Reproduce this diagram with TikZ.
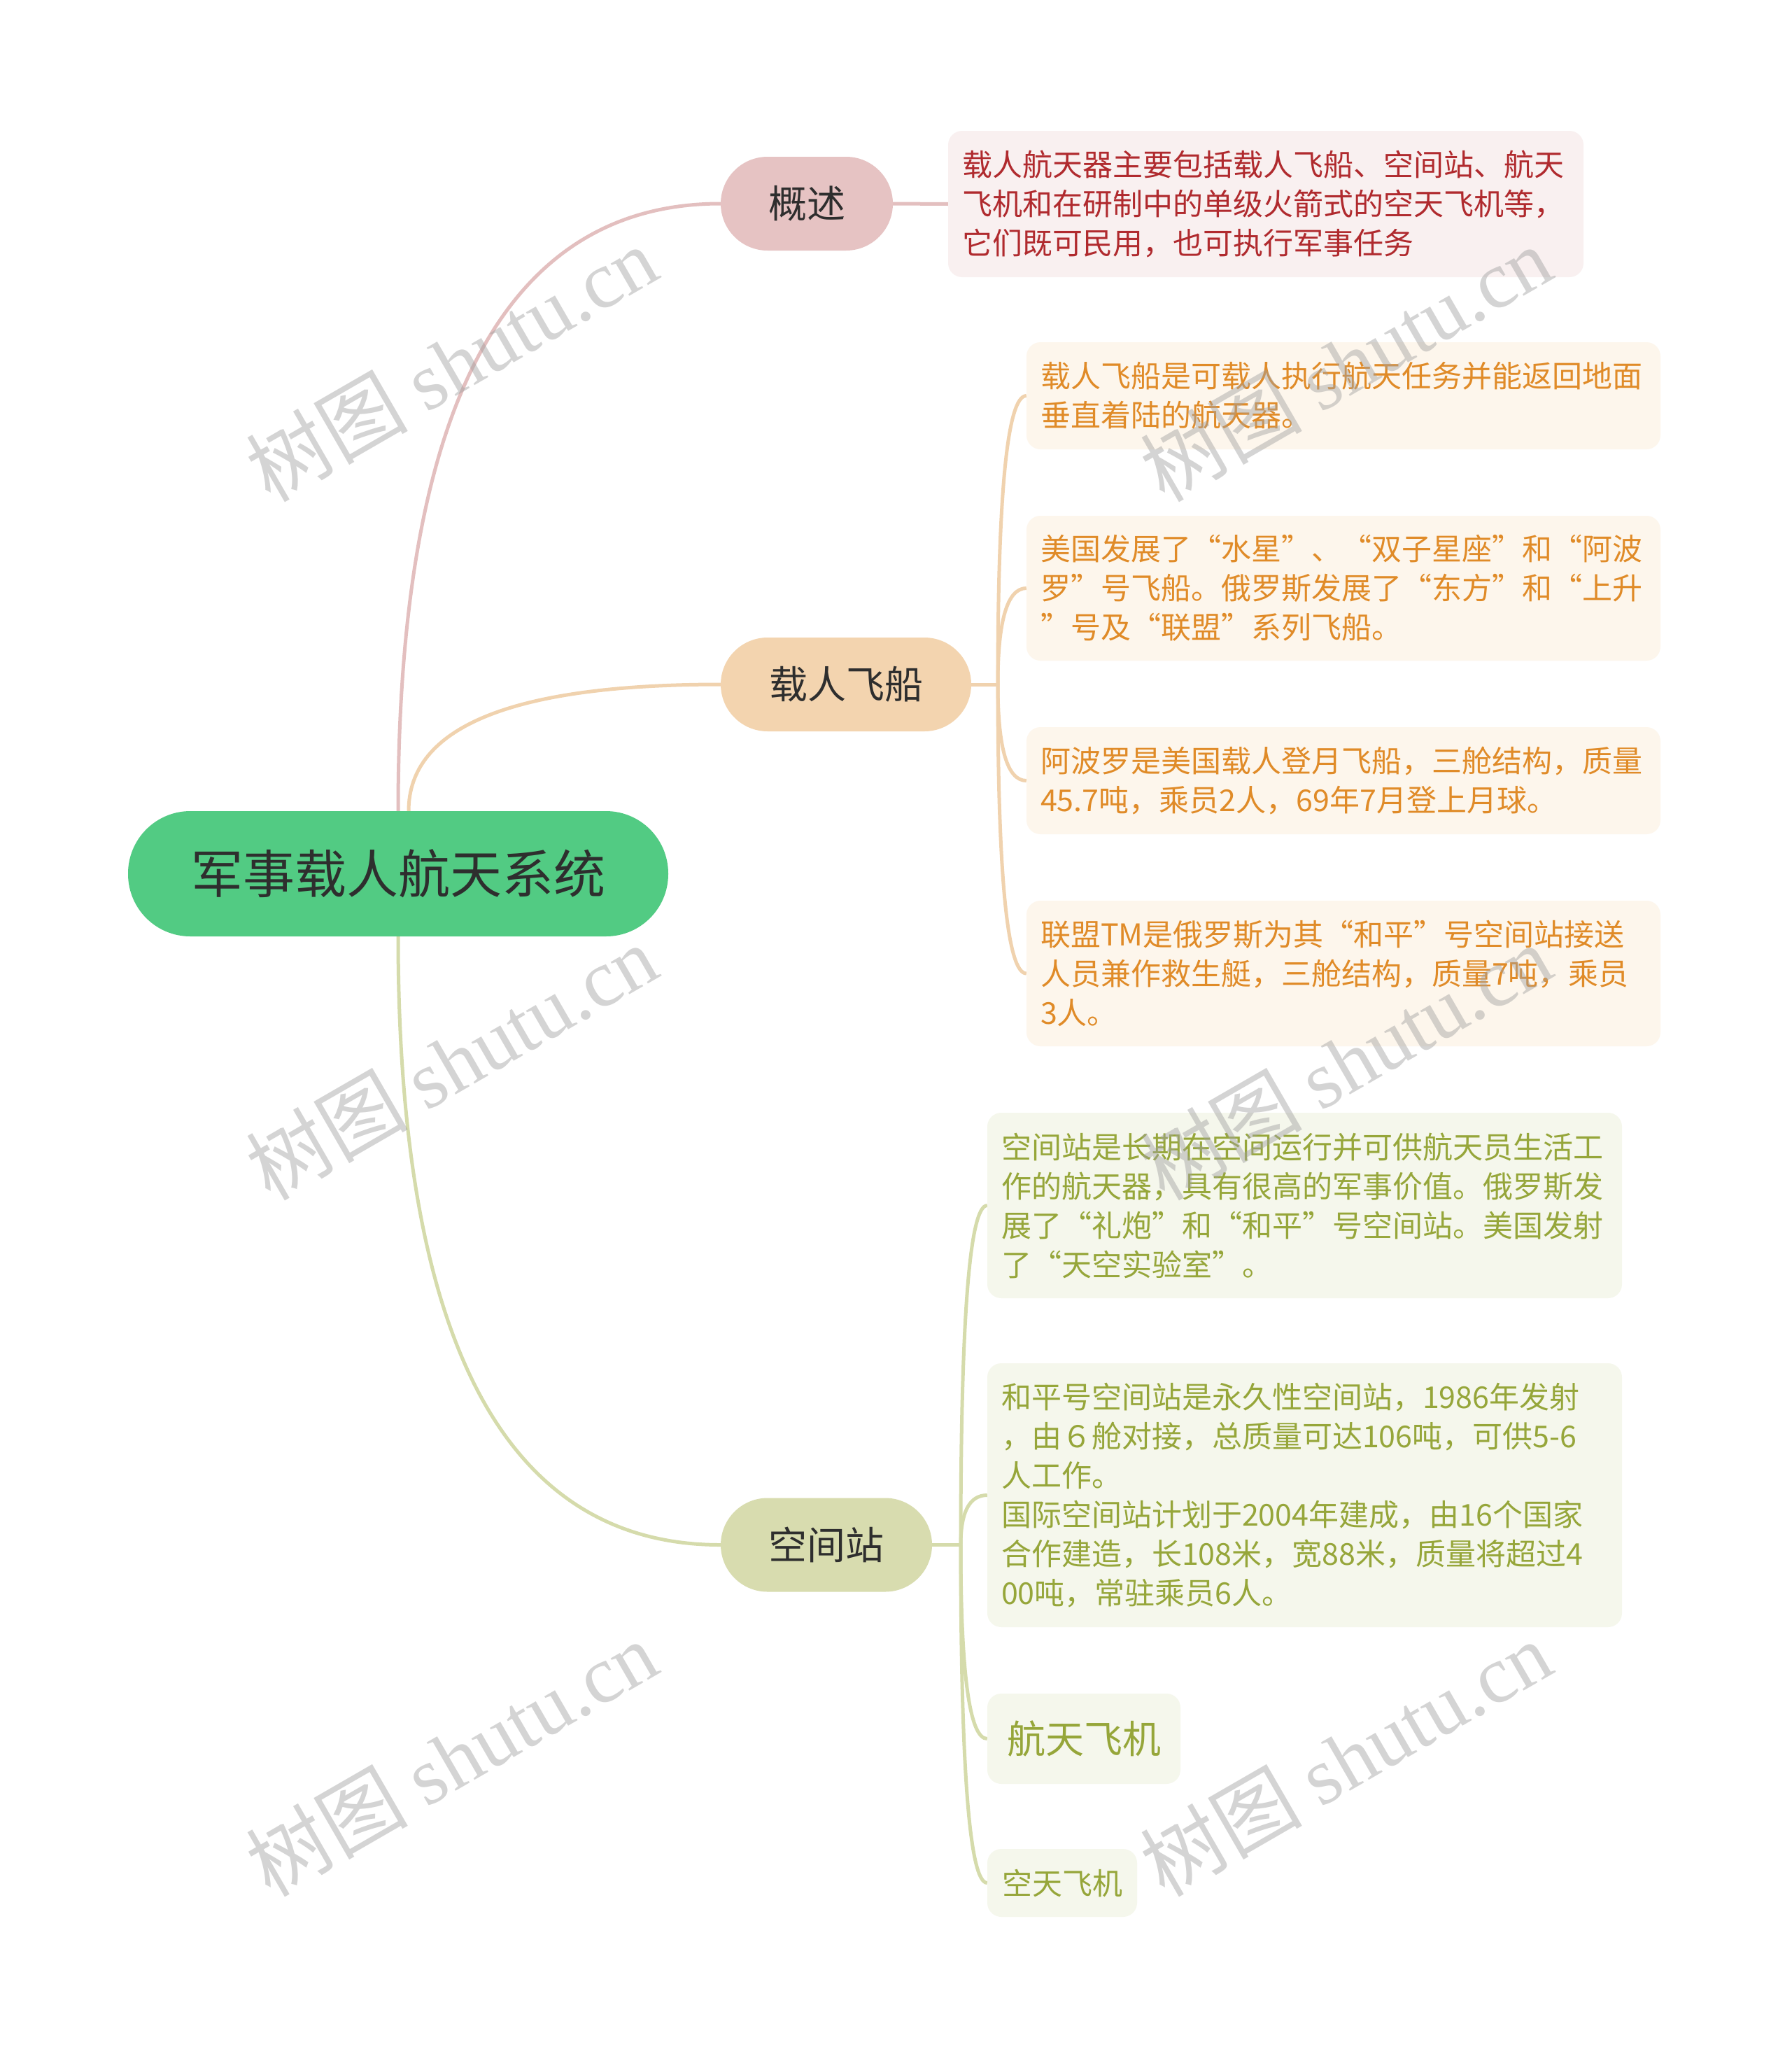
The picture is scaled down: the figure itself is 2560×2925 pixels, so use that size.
\documentclass[tikz,border=0pt]{standalone}
\usepackage{fontspec}
\setmainfont{Noto Sans CJK SC}
\newfontfamily\wmlatin{Liberation Serif}
\usetikzlibrary{calc}
\pgfdeclarelayer{background}
\pgfsetlayers{background,main}

\definecolor{rootfill}{HTML}{52CB83}
\definecolor{darktext}{HTML}{2E2E2E}
\definecolor{gsfill}{HTML}{E6C3C3}
\definecolor{gsline}{HTML}{E3BFBF}
\definecolor{gsbox}{HTML}{F9F0F0}
\definecolor{gstext}{HTML}{B02A2E}
\definecolor{zrfill}{HTML}{F3D4AF}
\definecolor{zrline}{HTML}{F0D2AE}
\definecolor{zrbox}{HTML}{FDF6EC}
\definecolor{zrtext}{HTML}{E08B28}
\definecolor{kjfill}{HTML}{D8DCAF}
\definecolor{kjline}{HTML}{D5DBAB}
\definecolor{kjbox}{HTML}{F5F7EC}
\definecolor{kjtext}{HTML}{96A63A}
\definecolor{wmgray}{HTML}{A0A0A0}

\tikzset{
  rootnode/.style={fill=rootfill, text=darktext, rounded corners=89pt,
    minimum height=179pt, inner sep=0pt,
    font=\fontsize{74pt}{88pt}\selectfont},
  mainnode/.style={fill=#1, text=darktext, rounded corners=67pt,
    minimum height=134pt, inner sep=0pt,
    font=\fontsize{55pt}{66pt}\selectfont},
  leaf/.style 2 args={fill=#1, text=#2, rounded corners=20pt,
    inner xsep=20pt, inner ysep=0pt, align=left,
    font=\fontsize{43pt}{56pt}\selectfont},
  smallleaf/.style 2 args={fill=#1, text=#2, rounded corners=20pt,
    inner sep=0pt},
  conn/.style={draw=#1, line width=5pt},
  wm/.style={text=wmgray, text opacity=0.45, rotate=30, inner sep=0pt,
    font=\fontsize{116pt}{116pt}\selectfont}
}
% quadratic-like curve: vertical start, horizontal end
\newcommand\qconn[3]{%
  \draw[conn=#1] (#2) .. controls ($(#2)!0.6667!(#2 |- #3)$)
    and ($(#3)!0.6667!(#2 |- #3)$) .. (#3);}

\begin{document}
\begin{tikzpicture}[x=1pt,y=-1pt]
\useasboundingbox (0,0) rectangle (2560,2925);

% main nodes
\node[rootnode, minimum width=772pt] (root) at (569,1248.5) {军事载人航天系统};
\node[mainnode=gsfill, minimum width=246pt] (gs) at (1153,291) {概述};
\node[mainnode=zrfill, minimum width=358pt] (zr) at (1209,978) {载人飞船};
\node[mainnode=kjfill, minimum width=302pt] (kj) at (1181,2207.5) {空间站};

% overview
\node[leaf={gsbox}{gstext}, text width=868pt, minimum height=209pt] (ov) at (1809,291.5)
  {载人航天器主要包括载人飞船、空间站、航天\\飞机和在研制中的单级火箭式的空天飞机等，\\它们既可民用，也可执行军事任务};

% manned spacecraft children
\node[leaf={zrbox}{zrtext}, text width=866pt, minimum height=153pt] (z1) at (1920,565.5)
  {载人飞船是可载人执行航天任务并能返回地面\\垂直着陆的航天器。};
\node[leaf={zrbox}{zrtext}, text width=866pt, minimum height=207pt] (z2) at (1920,840.5)
  {美国发展了“水星”、“双子星座”和“阿波\\罗”号飞船。俄罗斯发展了“东方”和“上升\\”号及“联盟”系列飞船。};
\node[leaf={zrbox}{zrtext}, text width=866pt, minimum height=153pt] (z3) at (1920,1115.5)
  {阿波罗是美国载人登月飞船，三舱结构，质量\\45.7吨，乘员2人，69年7月登上月球。};
\node[leaf={zrbox}{zrtext}, text width=866pt, minimum height=208pt] (z4) at (1920,1391)
  {联盟TM是俄罗斯为其“和平”号空间站接送\\人员兼作救生艇，三舱结构，质量7吨，乘员\\3人。};

% space station children
\node[leaf={kjbox}{kjtext}, text width=867pt, minimum height=265pt] (k1) at (1864.5,1722.5)
  {空间站是长期在空间运行并可供航天员生活工\\作的航天器，具有很高的军事价值。俄罗斯发\\展了“礼炮”和“和平”号空间站。美国发射\\了“天空实验室”。};
\node[leaf={kjbox}{kjtext}, text width=867pt, minimum height=377pt] (k2) at (1864.5,2136.5)
  {和平号空间站是永久性空间站，1986年发射\\，由６舱对接，总质量可达106吨，可供5-6\\人工作。\\国际空间站计划于2004年建成，由16个国家\\合作建造，长108米，宽88米，质量将超过4\\00吨，常驻乘员6人。};
\node[smallleaf={kjbox}{kjtext}, minimum width=276pt, minimum height=129pt,
  font=\fontsize{55pt}{66pt}\selectfont] (k3) at (1549,2484.5) {航天飞机};
\node[smallleaf={kjbox}{kjtext}, minimum width=214pt, minimum height=97pt,
  font=\fontsize{43pt}{56pt}\selectfont] (k4) at (1518,2690.5) {空天飞机};

% junctions
\coordinate (rtop2) at ([xshift=15pt]root.north);
\coordinate (zj) at (1426,978);
\coordinate (kjj) at (1373,2207.5);

\begin{pgfonlayer}{background}
  \fill[white] (0,0) rectangle (2560,2925);
  \qconn{gsline}{root.north}{gs.west}
  \qconn{zrline}{rtop2}{zr.west}
  \qconn{kjline}{root.south}{kj.west}
  \draw[conn=gsline] (gs.east) -- (ov.west);
  \draw[conn=zrline] (zr.east) -- (zj);
  \foreach \c in {z1,z2,z3,z4}
    {\qconn{zrline}{zj}{\c.west}}
  \draw[conn=kjline] (kj.east) -- (kjj);
  \foreach \c in {k1,k2,k3,k4}
    {\qconn{kjline}{kjj}{\c.west}}
\end{pgfonlayer}

% watermarks
\foreach \wx/\wy/\i in {645/519/1, 1923/519/2, 645/1517/3, 1923/1517/4, 645/2512/5, 1923/2512/6}
  \node[wm] (wm\i) at (\wx,\wy) {树图 {\wmlatin shutu.cn}};
\end{tikzpicture}
\end{document}
